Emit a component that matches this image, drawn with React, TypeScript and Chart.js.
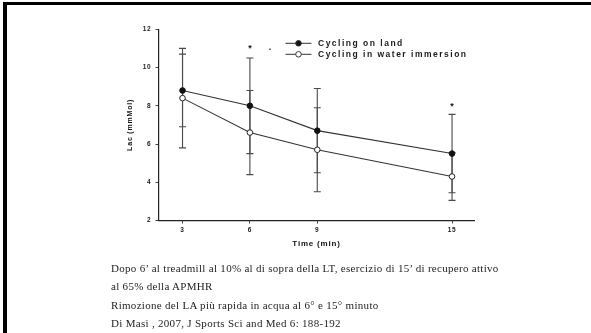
import React, { useEffect, useRef } from 'react';
import { Chart, registerables } from 'chart.js';

Chart.register(...registerables);

// ---- data ----
const timeMin = [3, 6, 9, 15];
const landMean = [8.8, 8.0, 6.7, 5.5];
const landSD = [1.9, 2.5, 2.2, 2.05];
const waterMean = [8.4, 6.6, 5.7, 4.3];
const waterSD = [2.6, 2.2, 2.2, 1.25];
const xTickValues = [3, 6, 9, 15];
const yTickValues = [2, 4, 6, 8, 10, 12];
const sigX = [6, 6.9, 15];
const sigY = [11.05, 10.97, 8.05];
const sigLabel = ['*', '.', '*'];
const seriesNames = ['Cycling on land', 'Cycling in water immersion'];
const xTitle = 'Time (min)';
const yTitle = 'Lac (mmMol)';
const captionLines = [
  'Dopo 6’ al treadmill al 10% al di sopra della LT, esercizio di 15’ di recupero attivo',
  'al 65% della APMHR',
  'Rimozione del LA più rapida in acqua al 6° e 15° minuto',
  'Di Masi , 2007, J Sports Sci and Med 6: 188-192',
];

const SANS = '"Liberation Sans", Arial, sans-serif';
const means = [landMean, waterMean];
const sds = [landSD, waterSD];

const errorBarPlugin = {
  id: 'errorBars',
  beforeDatasetsDraw(chart: any) {
    const { ctx, scales } = chart;
    const xs = scales.x, ys = scales.y;
    ctx.save();
    ctx.strokeStyle = '#4a4a4a';
    ctx.lineWidth = 1.1;
    for (let s = 0; s < means.length; s++) {
      for (let i = 0; i < timeMin.length; i++) {
        const px = xs.getPixelForValue(timeMin[i]);
        const yt = ys.getPixelForValue(means[s][i] + sds[s][i]);
        const yb = ys.getPixelForValue(means[s][i] - sds[s][i]);
        ctx.beginPath();
        ctx.moveTo(px, yt); ctx.lineTo(px, yb);
        ctx.moveTo(px - 3.5, yt); ctx.lineTo(px + 3.5, yt);
        ctx.moveTo(px - 3.5, yb); ctx.lineTo(px + 3.5, yb);
        ctx.stroke();
      }
    }
    ctx.restore();
  },
};

const decorPlugin = {
  id: 'decor',
  beforeDraw(chart: any) {
    chart.ctx.letterSpacing = '0.8px';
  },
  afterDraw(chart: any) {
    const { ctx, scales, chartArea } = chart;
    ctx.save();
    // significance marks
    ctx.fillStyle = '#111';
    ctx.font = `bold 9px ${SANS}`;
    ctx.textAlign = 'center';
    ctx.textBaseline = 'alphabetic';
    ctx.letterSpacing = '0px';
    for (let i = 0; i < sigX.length; i++) {
      const px = scales.x.getPixelForValue(sigX[i]);
      const py = scales.y.getPixelForValue(sigY[i]);
      const m = ctx.measureText(sigLabel[i]);
      const off = (m.actualBoundingBoxAscent - m.actualBoundingBoxDescent) / 2;
      ctx.fillText(sigLabel[i], px, py + off);
    }
    // legend
    const lx = chartArea.left + 127;
    const ly = chartArea.top + 14;
    ctx.font = `bold 8.5px ${SANS}`;
    ctx.textAlign = 'left';
    ctx.textBaseline = 'middle';
    ctx.letterSpacing = '1.5px';
    for (let i = 0; i < seriesNames.length; i++) {
      const y = ly + i * 11;
      ctx.strokeStyle = '#333';
      ctx.lineWidth = 1;
      ctx.beginPath();
      ctx.moveTo(lx, y); ctx.lineTo(lx + 26, y);
      ctx.stroke();
      ctx.beginPath();
      ctx.arc(lx + 13, y, 2.8, 0, Math.PI * 2);
      ctx.fillStyle = i === 0 ? '#111' : '#fff';
      ctx.fill();
      ctx.stroke();
      ctx.fillStyle = '#1a1a1a';
      ctx.fillText(seriesNames[i], lx + 32.5, y + 0.5);
    }
    ctx.restore();
  },
};

export default function App() {
  const ref = useRef<HTMLCanvasElement | null>(null);

  useEffect(() => {
    if (!ref.current) return;
    const chart = new Chart(ref.current, {
      type: 'line',
      data: {
        datasets: [
          {
            label: seriesNames[0],
            data: timeMin.map((t, i) => ({ x: t, y: landMean[i] })),
            borderColor: '#333',
            borderWidth: 1.1,
            pointRadius: 2.8,
            pointBackgroundColor: '#111',
            pointBorderColor: '#111',
            pointBorderWidth: 1,
          },
          {
            label: seriesNames[1],
            data: timeMin.map((t, i) => ({ x: t, y: waterMean[i] })),
            borderColor: '#333',
            borderWidth: 1.1,
            pointRadius: 2.8,
            pointBackgroundColor: '#fff',
            pointBorderColor: '#222',
            pointBorderWidth: 1,
          },
        ],
      },
      options: {
        animation: false,
        responsive: false,
        devicePixelRatio: 1,
        layout: { padding: { left: 0, right: 116.5, top: 29.3, bottom: 84.2 } },
        plugins: { legend: { display: false }, tooltip: { enabled: false } },
        scales: {
          x: {
            type: 'linear',
            min: 1.93,
            max: 16,
            afterBuildTicks: (s: any) => { s.ticks = xTickValues.map((v) => ({ value: v })); },
            afterFit: (s: any) => { s.height = 28.3; },
            grid: { display: true, drawOnChartArea: false, drawTicks: true, tickLength: 3, color: '#444' },
            border: { display: true, color: '#222', width: 1.2 },
            ticks: { color: '#222', padding: 3, font: { family: SANS, size: 6.5, weight: 'bold' }, maxRotation: 0 },
            title: { display: true, text: xTitle, color: '#111', padding: { top: 0, bottom: 0 }, font: { family: SANS, size: 8, weight: 'bold' } },
          },
          y: {
            type: 'linear',
            min: 2,
            max: 12,
            afterBuildTicks: (s: any) => { s.ticks = yTickValues.map((v) => ({ value: v })); },
            afterFit: (s: any) => { s.width = 158.5; },
            grid: { display: true, drawOnChartArea: false, drawTicks: true, tickLength: 3, color: '#444' },
            border: { display: true, color: '#222', width: 1.2 },
            ticks: { color: '#222', padding: 4, font: { family: SANS, size: 6.5, weight: 'bold' } },
            title: { display: true, text: yTitle, color: '#111', padding: { top: 125.8, bottom: 0 }, font: { family: SANS, size: 7, weight: 'bold' } },
          },
        },
      },
      plugins: [errorBarPlugin, decorPlugin],
    } as any);
    return () => chart.destroy();
  }, []);

  const captionTop = [260.5, 279.1, 297.8, 316.1];

  return (
    <div style={{ position: 'absolute', left: 0, top: 0, width: 591, height: 333, background: '#fff', overflow: 'hidden' }}>
      <canvas ref={ref} width={591} height={333} style={{ position: 'absolute', left: 0, top: 0, width: 591, height: 333 }} />
      <div style={{ position: 'absolute', left: 3, top: 2, right: 0, height: 3, background: '#000' }} />
      <div style={{ position: 'absolute', left: 3, top: 2, width: 3.5, bottom: 0, background: '#000' }} />
      {captionLines.map((t, i) => (
        <div
          key={i}
          style={{
            position: 'absolute',
            left: 111,
            top: captionTop[i],
            fontFamily: '"Liberation Serif", "Times New Roman", serif',
            fontSize: 11,
            letterSpacing: '0.3px',
            lineHeight: '14px',
            color: '#1e1e1e',
            whiteSpace: 'nowrap',
          }}
        >
          {t}
        </div>
      ))}
    </div>
  );
}
